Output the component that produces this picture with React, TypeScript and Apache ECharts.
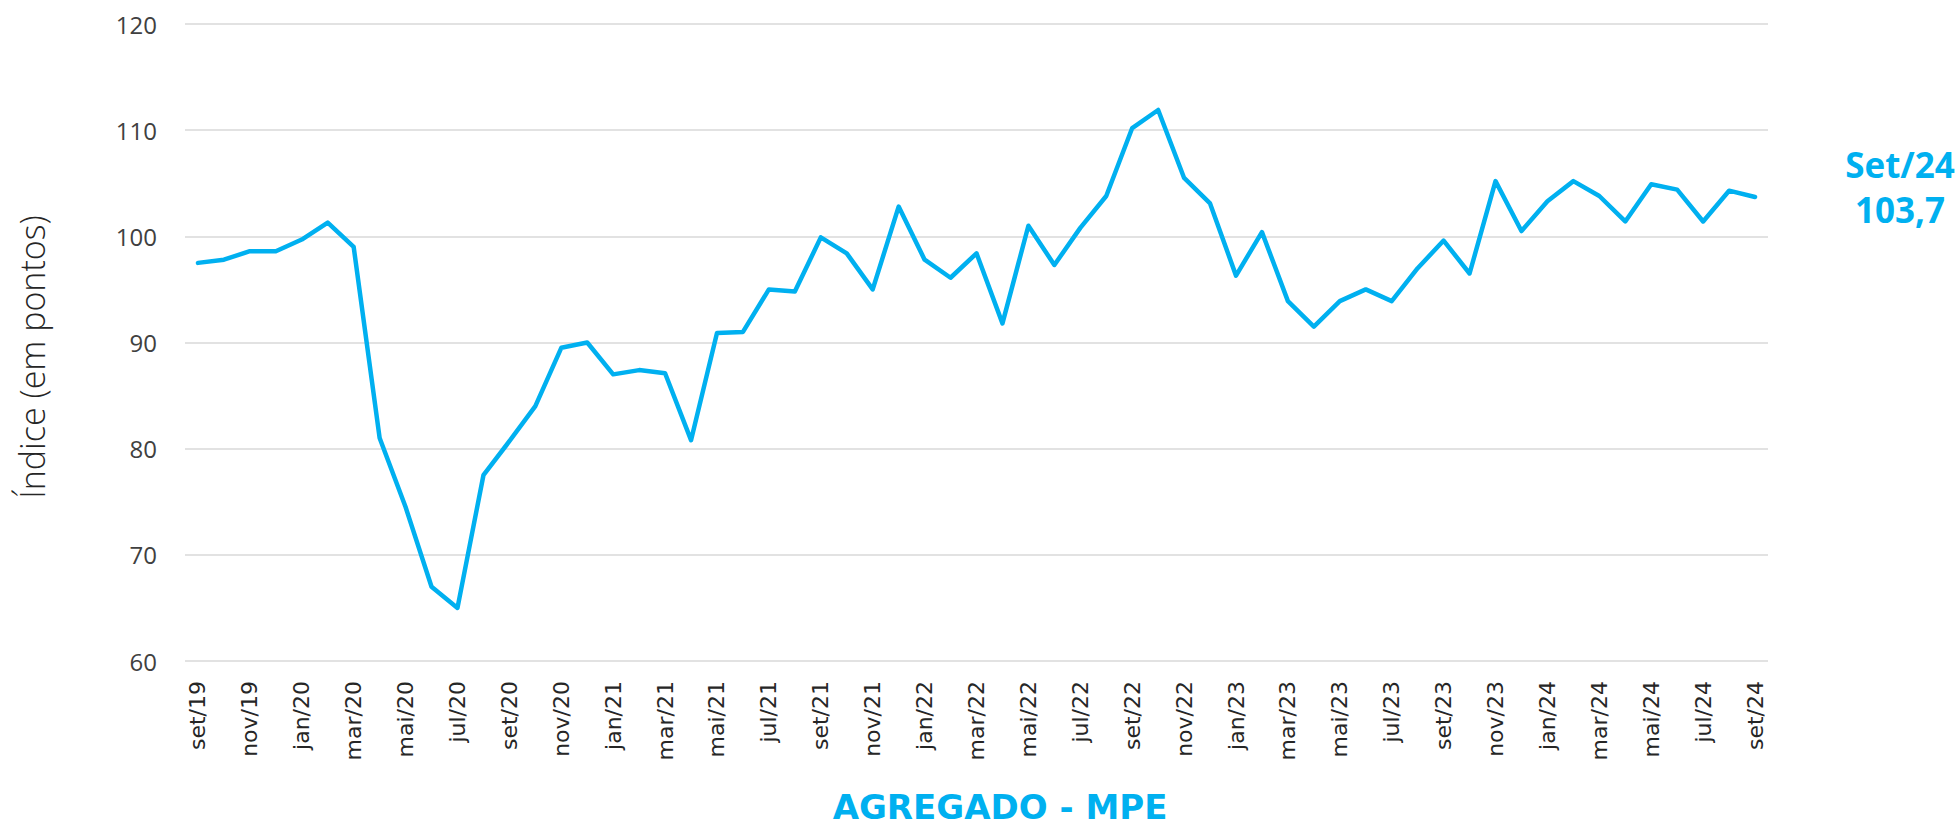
import React, { useEffect, useRef } from "react";
import * as echarts from "echarts";

const categories = [
  "set/19", "out/19", "nov/19", "dez/19", "jan/20", "fev/20", "mar/20", "abr/20", "mai/20", "jun/20",
  "jul/20", "ago/20", "set/20", "out/20", "nov/20", "dez/20", "jan/21", "fev/21", "mar/21", "abr/21",
  "mai/21", "jun/21", "jul/21", "ago/21", "set/21", "out/21", "nov/21", "dez/21", "jan/22", "fev/22",
  "mar/22", "abr/22", "mai/22", "jun/22", "jul/22", "ago/22", "set/22", "out/22", "nov/22", "dez/22",
  "jan/23", "fev/23", "mar/23", "abr/23", "mai/23", "jun/23", "jul/23", "ago/23", "set/23", "out/23",
  "nov/23", "dez/23", "jan/24", "fev/24", "mar/24", "abr/24", "mai/24", "jun/24", "jul/24", "ago/24",
  "set/24",
];

const values = [
  97.5, 97.8, 98.6, 98.6, 99.7, 101.3, 99.0, 81.0, 74.5, 67.0,
  65.0, 77.5, 80.7, 84.0, 89.5, 90.0, 87.0, 87.4, 87.1, 80.8,
  90.9, 91.0, 95.0, 94.8, 99.9, 98.4, 95.0, 102.8, 97.8, 96.1,
  98.4, 91.8, 101.0, 97.3, 100.8, 103.8, 110.2, 111.9, 105.5, 103.1,
  96.3, 100.4, 93.9, 91.5, 93.9, 95.0, 93.9, 97.0, 99.6, 96.5,
  105.2, 100.5, 103.3, 105.2, 103.8, 101.4, 104.9, 104.4, 101.4, 104.3,
  103.7,
];

const yMin = 60;
const yMax = 120;
const yStep = 10;

const yAxisTitle = "Índice (em pontos)";
const chartTitle = "AGREGADO - MPE";
const lastLabel = "Set/24";
const lastValue = "103,7";

const BLUE = "#00b0f0";

export default function App() {
  const ref = useRef<HTMLDivElement>(null);

  useEffect(() => {
    if (!ref.current) return;
    const chart = echarts.init(ref.current, null, { renderer: "svg" });
    chart.setOption({
      animation: false,
      backgroundColor: "#ffffff",
      grid: { left: 185, right: 191, top: 24, bottom: 168, containLabel: false },
      xAxis: {
        type: "category",
        data: categories,
        boundaryGap: true,
        axisLine: { show: false },
        axisTick: { show: false },
        axisLabel: {
          interval: 1,
          rotate: 90,
          margin: 20,
          fontFamily: "DejaVu Sans",
          fontSize: 22,
          color: "#262626",
        },
      },
      yAxis: {
        type: "value",
        min: yMin,
        max: yMax,
        interval: yStep,
        axisLine: { show: false },
        axisTick: { show: false },
        axisLabel: {
          margin: 28,
          fontFamily: "Open Sans",
          fontSize: 24,
          color: "#404040",
        },
        splitLine: { lineStyle: { color: "#d9d9d9", width: 1.5 } },
      },
      series: [
        {
          type: "line",
          data: values,
          symbol: "none",
          lineStyle: { color: BLUE, width: 4.5, join: "round", cap: "round" },
          itemStyle: { color: BLUE },
        },
      ],
      graphic: [
        {
          type: "text",
          x: 32,
          y: 357,
          rotation: Math.PI / 2,
          style: {
            text: yAxisTitle,
            fontFamily: "Open Sans",
            fontWeight: 300,
            fontSize: 34,
            fill: "#262626",
            align: "center",
            verticalAlign: "middle",
          },
        },
        {
          type: "text",
          x: 1000,
          y: 807,
          style: {
            text: chartTitle,
            fontFamily: "DejaVu Sans",
            fontWeight: "bold",
            fontSize: 34,
            lineHeight: 34,
            fill: BLUE,
            align: "center",
            verticalAlign: "middle",
          },
        },
        {
          type: "text",
          x: 1900,
          y: 164,
          style: {
            text: lastLabel,
            fontFamily: "Open Sans",
            fontWeight: "bold",
            fontSize: 35,
            fill: BLUE,
            align: "center",
            verticalAlign: "middle",
          },
        },
        {
          type: "text",
          x: 1900,
          y: 209,
          style: {
            text: lastValue,
            fontFamily: "Open Sans",
            fontWeight: "bold",
            fontSize: 35,
            fill: BLUE,
            align: "center",
            verticalAlign: "middle",
          },
        },
      ],
    });
    return () => chart.dispose();
  }, []);

  return (
    <div
      ref={ref}
      style={{ position: "fixed", left: 0, top: 0, width: 1959, height: 829 }}
    />
  );
}
